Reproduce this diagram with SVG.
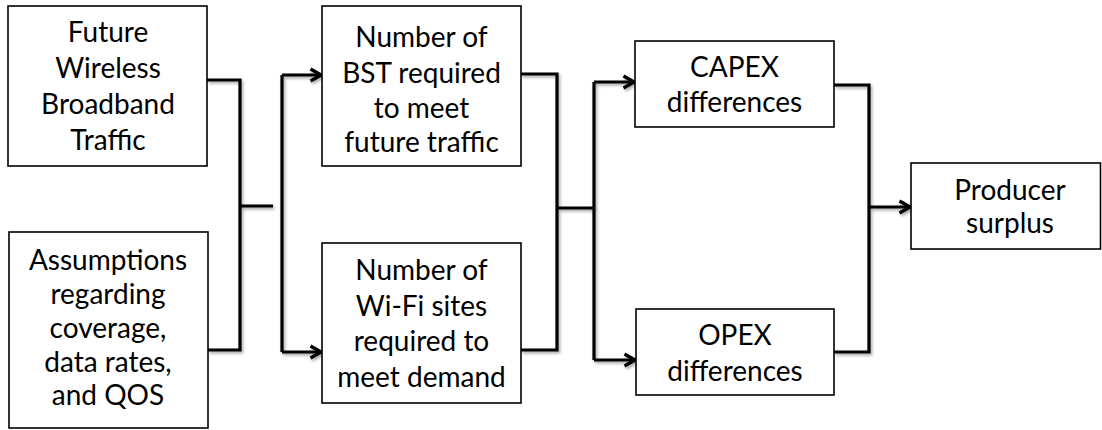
<svg xmlns="http://www.w3.org/2000/svg" width="1102" height="430" viewBox="0 0 1102 430">
  <style>
    .box { fill: #ffffff; stroke: #000000; stroke-width: 1.6; }
    .lbl { font-family: Lato, "Noto Sans", "Liberation Sans", sans-serif; font-size: 28px; fill: #000000; text-anchor: middle; }
    .conn { fill: none; stroke: #000000; stroke-width: 3.2; stroke-linejoin: miter; }
    .arr { fill: none; stroke: #000000; stroke-width: 3.2; marker-end: url(#chev); }
  </style>
  <defs>
    <marker id="chev" markerUnits="userSpaceOnUse" markerWidth="16" markerHeight="18" viewBox="0 0 16 18" refX="13" refY="9" orient="auto">
      <path d="M2.5,3 L13,9 L2.5,15" fill="none" stroke="#000000" stroke-width="3.2" stroke-linejoin="miter"/>
    </marker>
    <filter id="shadow" x="-20%" y="-20%" width="140%" height="140%">
      <feDropShadow dx="1.5" dy="2" stdDeviation="1.5" flood-color="#000000" flood-opacity="0.35"/>
    </filter>
  </defs>

  <rect width="1102" height="430" fill="#ffffff"/>

  <g id="connectors" filter="url(#shadow)">
    <path class="conn" d="M207,80 H240 V350 H208"/>
    <path class="conn" d="M240,206 H273"/>
    <path class="conn" d="M282,352 V75"/>
    <path class="arr" d="M282,75 H321"/>
    <path class="arr" d="M282,352 H321"/>

    <path class="conn" d="M521,74 H557 V350 H521"/>
    <path class="conn" d="M557,208 H593"/>
    <path class="conn" d="M594,360 V82"/>
    <path class="arr" d="M594,82 H634"/>
    <path class="arr" d="M594,360 H635"/>

    <path class="conn" d="M834,85 H869 V352 H834"/>
    <path class="arr" d="M869,207 H910"/>
  </g>

  <g id="future-traffic">
    <rect class="box" x="8" y="6" width="199" height="160"/>
    <text class="lbl" x="108" y="42">Future</text>
    <text class="lbl" x="108" y="78">Wireless</text>
    <text class="lbl" x="108" y="114">Broadband</text>
    <text class="lbl" x="108" y="150">Traffic</text>
  </g>

  <g id="assumptions">
    <rect class="box" x="9" y="232" width="199" height="196"/>
    <text class="lbl" x="108" y="270">Assumptions</text>
    <text class="lbl" x="108" y="304">regarding</text>
    <text class="lbl" x="108" y="338">coverage,</text>
    <text class="lbl" x="108" y="372">data rates,</text>
    <text class="lbl" x="108" y="405">and QOS</text>
  </g>

  <g id="bst-number">
    <rect class="box" x="322" y="6" width="199" height="160"/>
    <text class="lbl" x="421.5" y="47">Number of</text>
    <text class="lbl" x="421.5" y="83">BST required</text>
    <text class="lbl" x="421.5" y="118">to meet</text>
    <text class="lbl" x="421.5" y="152">future traffic</text>
  </g>

  <g id="wifi-number">
    <rect class="box" x="322" y="243" width="199" height="160"/>
    <text class="lbl" x="421.5" y="280">Number of</text>
    <text class="lbl" x="421.5" y="315.5">Wi-Fi sites</text>
    <text class="lbl" x="421.5" y="351">required to</text>
    <text class="lbl" x="421.5" y="386.5">meet demand</text>
  </g>

  <g id="capex">
    <rect class="box" x="635" y="41" width="199" height="86"/>
    <text class="lbl" x="734.5" y="77">CAPEX</text>
    <text class="lbl" x="734.5" y="112">differences</text>
  </g>

  <g id="opex">
    <rect class="box" x="636" y="309" width="198" height="86"/>
    <text class="lbl" x="735" y="345">OPEX</text>
    <text class="lbl" x="735" y="381">differences</text>
  </g>

  <g id="producer-surplus">
    <rect class="box" x="911" y="163" width="189.5" height="86"/>
    <text class="lbl" x="1010" y="200">Producer</text>
    <text class="lbl" x="1010" y="233">surplus</text>
  </g>
</svg>
